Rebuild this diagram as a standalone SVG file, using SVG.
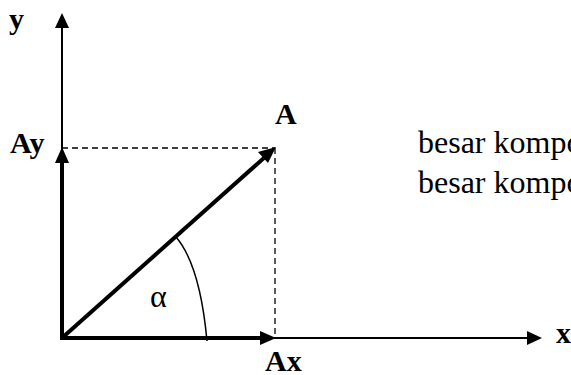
<svg xmlns="http://www.w3.org/2000/svg" width="571" height="375" viewBox="0 0 571 375">
<style>
.lbl{font-family:"Liberation Serif","Times New Roman",serif;font-weight:bold;font-size:30px;fill:#000}
.txt{font-family:"Liberation Serif","Times New Roman",serif;font-size:32px;fill:#000}
.axis{stroke:#000;stroke-width:2;fill:none}
.vec{stroke:#000;stroke-width:4;fill:none}
.dash{stroke:#000;stroke-width:1.3;stroke-dasharray:6,4;fill:none}
</style>
<rect width="571" height="375" fill="#fff"/>
<g id="connectors">
<line class="dash" x1="62" y1="148" x2="275" y2="148"/>
<line class="dash" x1="275" y1="148" x2="275" y2="338"/>
<line class="axis" x1="62" y1="339" x2="62" y2="26"/>
<polygon points="62,13 55,28 69,28" fill="#000"/>
<line class="axis" x1="62" y1="338" x2="528" y2="338"/>
<polygon points="542,338 527,331 527,345" fill="#000"/>
<line class="vec" x1="62" y1="340" x2="62" y2="160"/>
<polygon points="62,147 55,163 69,163" fill="#000"/>
<line class="vec" x1="60" y1="338" x2="262" y2="338"/>
<polygon points="276,338 260,331 260,345" fill="#000"/>
<line class="vec" x1="62" y1="338" x2="265" y2="157"/>
<polygon points="276,147 258,152 268,163" fill="#000"/>
<path d="M176,237 Q200,265 207,341" stroke="#000" stroke-width="1.5" fill="none"/>
</g>
<g id="labels">
<text class="lbl" x="9" y="29">y</text>
<text class="lbl" x="10" y="153">Ay</text>
<text class="lbl" x="275" y="124">A</text>
<text class="lbl" x="265" y="371">Ax</text>
<text class="lbl" x="556" y="343">x</text>
<text class="txt" x="150" y="307" font-size="30">α</text>
<text class="txt" x="418" y="153">besar kompo</text>
<text class="txt" x="418" y="193">besar kompo</text>
</g>
</svg>
